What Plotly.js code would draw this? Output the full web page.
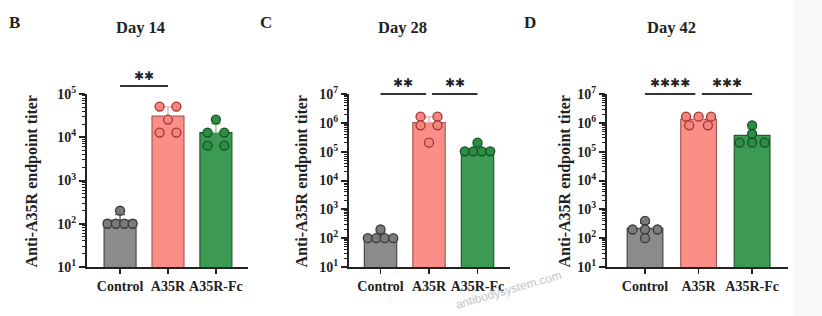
<!DOCTYPE html>
<html>
<head>
<meta charset="utf-8">
<script src="https://cdn.plot.ly/plotly-3.0.1.min.js"></script>
<style>html,body{margin:0;padding:0;background:#fff;}#chart{width:822px;height:316px;}</style>
</head>
<body>
<div id="chart"></div>
<script>
// ---------- data ----------
const categories = ['Control', 'A35R', 'A35R-Fc'];
const panelLetters = ['B', 'C', 'D'];
const panelTitles = ['Day 14', 'Day 28', 'Day 42'];
const yTitle = 'Anti-A35R endpoint titer';

const day14Control = [200, 100, 100, 100, 100];
const day14A35R    = [51200, 51200, 25600, 12800, 12800];
const day14A35RFc  = [25600, 12800, 12800, 6400, 6400];

const day28Control = [200, 100, 100, 100, 100];
const day28A35R    = [1638400, 1638400, 819200, 819200, 204800];
const day28A35RFc  = [204800, 102400, 102400, 102400, 102400];

const day42Control = [400, 200, 200, 200, 100];
const day42A35R    = [1638400, 1638400, 1638400, 819200, 819200];
const day42A35RFc  = [819200, 409600, 204800, 204800, 204800];

const day14Stats = [[0, 1, '✱✱']];
const day28Stats = [[0, 1, '✱✱'], [1, 2, '✱✱']];
const day42Stats = [[0, 1, '✱✱✱✱'], [1, 2, '✱✱✱']];

const watermark = 'antibodysystem.com';

// ---------- styling ----------
const W = 822, H = 316;
const px = x => x / W;
const py = y => 1 - y / H;
const serif = 'Liberation Serif, Times New Roman, serif';
const ink = '#222222';

const groupStyle = [
  {bar: '#8b8b8b', barLine: '#4a4a4a', pt: '#7a7a7a', ptLine: '#3a3a3a', err: '#6a6a6a'},
  {bar: '#fb8f88', barLine: '#a85a55', pt: '#f28780', ptLine: '#a83232', err: '#f2b4b0'},
  {bar: '#3c9a52', barLine: '#215a30', pt: '#2f8c45', ptLine: '#125222', err: '#8fd09d'}
];

const panelGeom = [
  {xl: 87,  xr: 248, range: [-0.69, 2.67], ymax: 5, lineY: 86, starY: 76, letterX: 15,  titleX: 140, yTitleX: 32},
  {xl: 349, xr: 510, range: [-0.65, 2.67], ymax: 7, lineY: 94, starY: 83, letterX: 266, titleX: 402, yTitleX: 302},
  {xl: 607, xr: 788, range: [-0.71, 2.67], ymax: 7, lineY: 94, starY: 83, letterX: 530, titleX: 671, yTitleX: 565}
];
const yTop = 94, yBot = 267;

// ---------- helpers ----------
const mean = a => a.reduce((s, v) => s + v, 0) / a.length;
const sd = a => { const m = mean(a); return Math.sqrt(a.reduce((s, v) => s + (v - m) * (v - m), 0) / (a.length - 1)); };
function swarm(vals) {
  const groups = {};
  vals.forEach((v, i) => { (groups[v] = groups[v] || []).push(i); });
  const off = new Array(vals.length).fill(0);
  Object.values(groups).forEach(idx => {
    const k = idx.length, step = Math.min(0.35, 0.7 / k);
    idx.forEach((i, j) => { off[i] = (j - (k - 1) / 2) * step; });
  });
  return off;
}

const panelData = [
  [day14Control, day14A35R, day14A35RFc],
  [day28Control, day28A35R, day28A35RFc],
  [day42Control, day42A35R, day42A35RFc]
];
const panelStats = [day14Stats, day28Stats, day42Stats];

const traces = [];
const layout = {
  width: W, height: H,
  margin: {l: 0, r: 0, t: 0, b: 0},
  paper_bgcolor: '#ffffff', plot_bgcolor: 'rgba(0,0,0,0)',
  showlegend: false,
  barmode: 'overlay',
  annotations: [], shapes: []
};

panelData.forEach((groups, p) => {
  const g = panelGeom[p];
  const sfx = p === 0 ? '' : String(p + 1);
  const xa = 'x' + sfx, ya = 'y' + sfx;

  groups.forEach((vals, i) => {
    const st = groupStyle[i];
    traces.push({
      type: 'bar', x: [i], y: [mean(vals)], width: 0.667, xaxis: xa, yaxis: ya,
      marker: {color: st.bar, line: {color: st.barLine, width: 1.2}},
      error_y: {type: 'data', symmetric: false, array: [sd(vals)], arrayminus: [0],
                color: st.err, thickness: 1.5, width: 5},
      hoverinfo: 'skip'
    });
  });
  groups.forEach((vals, i) => {
    const st = groupStyle[i];
    const off = swarm(vals);
    traces.push({
      type: 'scatter', mode: 'markers', xaxis: xa, yaxis: ya,
      x: vals.map((v, k) => i + off[k]), y: vals,
      marker: {size: 9, color: st.pt, line: {color: st.ptLine, width: 1.3}},
      cliponaxis: false, hoverinfo: 'skip'
    });
  });

  const majors = [], majorText = [], minors = [];
  for (let k = 1; k <= g.ymax; k++) {
    majors.push(Math.pow(10, k));
    majorText.push('10<sup>' + k + '</sup>');
    if (k < g.ymax) for (let m = 2; m <= 9; m++) minors.push(m * Math.pow(10, k));
  }

  layout['xaxis' + sfx] = {
    domain: [px(g.xl), px(g.xr)], anchor: ya, range: g.range,
    tickvals: [0, 1, 2], ticktext: categories, tickangle: 0,
    showline: true, linecolor: ink, linewidth: 2,
    ticks: 'outside', ticklen: 5, tickwidth: 1.5, tickcolor: ink,
    tickfont: {family: serif, size: 14, color: ink, weight: 'bold'},
    showgrid: false, zeroline: false, fixedrange: true
  };
  layout['yaxis' + sfx] = {
    domain: [py(yBot), py(yTop)], anchor: xa, type: 'log', range: [1, g.ymax],
    tickmode: 'array', tickvals: majors, ticktext: majorText,
    showline: true, linecolor: ink, linewidth: 2,
    ticks: 'outside', ticklen: 6, tickwidth: 2, tickcolor: ink,
    minor: {tickmode: 'array', tickvals: minors, ticks: 'outside', ticklen: 3.5, tickwidth: 1, tickcolor: ink, showgrid: false},
    tickfont: {family: serif, size: 14, color: ink, weight: 'bold'},
    showgrid: false, zeroline: false, fixedrange: true
  };

  // panel letter, title, y title
  layout.annotations.push(
    {xref: 'paper', yref: 'paper', x: px(g.letterX), y: py(23), text: panelLetters[p], showarrow: false,
     xanchor: 'center', yanchor: 'middle', font: {family: serif, size: 17, color: ink, weight: 'bold'}},
    {xref: 'paper', yref: 'paper', x: px(g.titleX), y: py(27), text: panelTitles[p], showarrow: false,
     xanchor: 'center', yanchor: 'middle', font: {family: serif, size: 16.5, color: ink, weight: 'bold'}},
    {xref: 'paper', yref: 'paper', x: px(g.yTitleX), y: py((yTop + yBot) / 2 + 1), text: yTitle, showarrow: false,
     textangle: -90, xanchor: 'center', yanchor: 'middle', font: {family: serif, size: 16, color: ink, weight: 'bold'}}
  );

  // significance bars
  const comps = panelStats[p];
  comps.forEach(c => {
    const [a, b, label] = c;
    const sharedA = comps.some(o => o !== c && (o[1] === a));
    const sharedB = comps.some(o => o !== c && (o[0] === b));
    const x0 = a + (sharedA ? 0.06 : 0), x1 = b - (sharedB ? 0.06 : 0);
    layout.shapes.push({type: 'line', xref: xa, yref: 'paper', x0: x0, x1: x1,
      y0: py(g.lineY), y1: py(g.lineY), line: {color: '#333', width: 2}});
    layout.annotations.push({xref: xa, yref: 'paper', x: (x0 + x1) / 2, y: py(g.starY), text: label,
      showarrow: false, xanchor: 'center', yanchor: 'middle',
      font: {family: 'DejaVu Sans, sans-serif', size: 12, color: ink}});
  });
});

// light grey strip at the right edge
layout.shapes.push({type: 'rect', xref: 'paper', yref: 'paper', x0: px(794), x1: 1, y0: 0, y1: 1,
  fillcolor: '#f8f8f8', line: {width: 0}, layer: 'below'});

// watermark
layout.annotations.push({xref: 'paper', yref: 'paper', x: px(508), y: py(290), text: watermark, showarrow: false,
  textangle: -16, xanchor: 'center', yanchor: 'middle',
  font: {family: 'Liberation Sans, Arial, sans-serif', size: 12, color: '#c4c4c4'}});

Plotly.newPlot('chart', traces, layout, {staticPlot: true, displayModeBar: false});
</script>
</body>
</html>
